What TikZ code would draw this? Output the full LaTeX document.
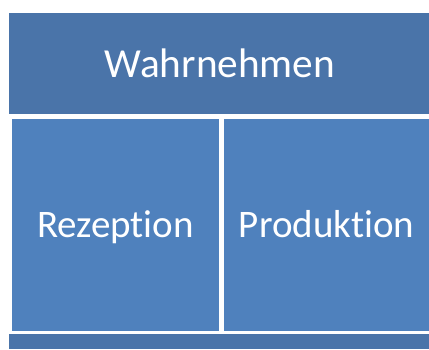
\documentclass[tikz,border=0pt]{standalone}
\usepackage{fontspec}
\setmainfont{Carlito}[Ligatures={NoCommon}]
\definecolor{topblue}{RGB}{74,116,169}
\definecolor{boxblue}{RGB}{79,129,189}
\begin{document}
\begin{tikzpicture}[x=1pt,y=1pt,
  label/.style={text=white,font=\fontsize{39}{44}\selectfont,anchor=base,inner sep=0pt}]
\useasboundingbox (0,0) rectangle (429,349);
\fill[white] (0,0) rectangle (429,349);
\fill[topblue] (9,235) rectangle (429,336);
\fill[boxblue] (12,18) rectangle (219,230);
\fill[boxblue] (224,18) rectangle (429,230);
\fill[topblue] (9,0) rectangle (429,15);
\node[label,font=\fontsize{41.3}{46}\selectfont] (w) at (220,272) {Wahrnehmen};
\node[label] (r) at (115.5,112) {Rezeption};
\node[label] (p) at (326.5,112) {Produktion};
\end{tikzpicture}
\end{document}
